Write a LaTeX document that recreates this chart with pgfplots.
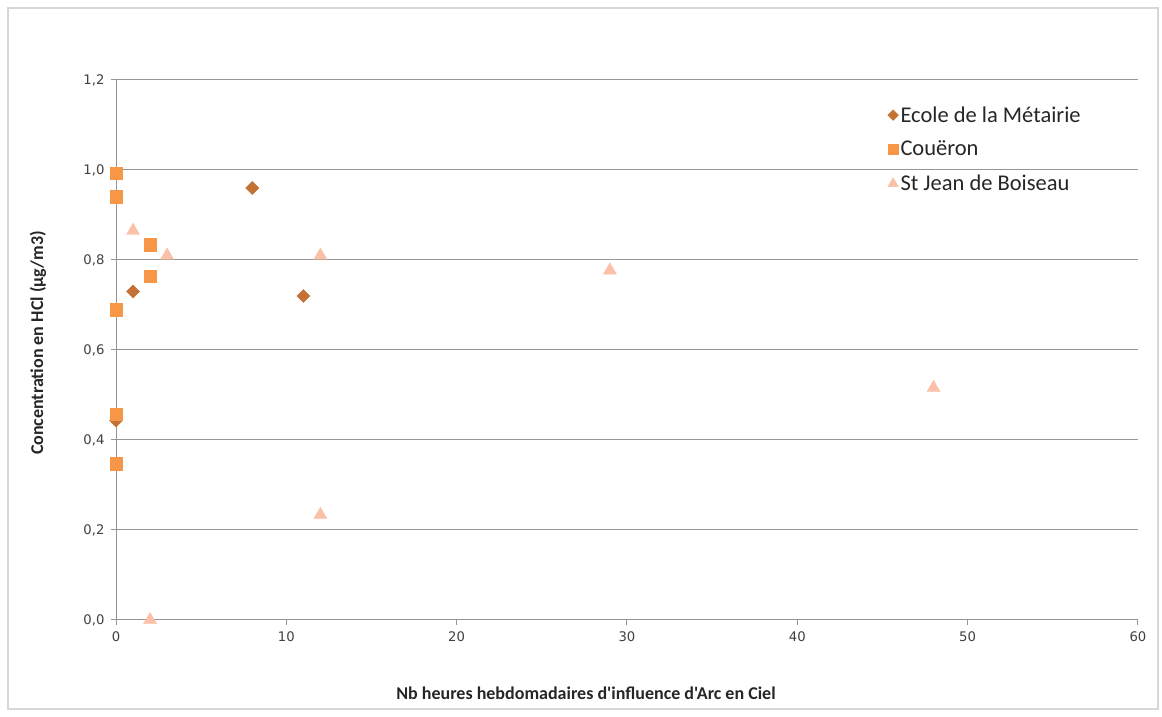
\documentclass[border=0pt]{standalone}
\usepackage{pgfplots}
\pgfplotsset{compat=1.18}
\usepackage{fontspec}
\setmainfont{Carlito}
\newfontfamily\labfont{Carlito}
\newfontfamily\tickfont{DejaVu Sans}
\definecolor{cEcole}{RGB}{194,114,52}
\definecolor{cCoue}{RGB}{247,150,70}
\definecolor{cStJ}{RGB}{250,192,168}
\definecolor{gridc}{RGB}{150,150,150}
\begin{document}
\begin{tikzpicture}[x=1pt,y=1pt]
\path[use as bounding box] (0,0) rectangle (1162,717);
\draw[color={rgb,255:red,215;green,215;blue,215},line width=1.2pt] (8,8) rectangle (1158,709);
\begin{axis}[
  at={(116pt,97pt)}, anchor=south west,
  scale only axis, width=1022pt, height=540pt,
  xmin=0, xmax=60, ymin=0, ymax=1.2,
  xtick={0,10,...,60}, ytick={0,0.2,...,1.2},
  axis x line*=bottom, axis y line*=left,
  axis line style={gridc, line width=1pt, -},
  ymajorgrids, grid style={gridc, line width=1pt},
  tick style={gridc, line width=1pt},
  tick align=outside, major tick length=5pt,
  /pgf/number format/assume math mode=true,
  ticklabel style={font=\tickfont\fontsize{13.2}{15}\selectfont, text=black!75},
  yticklabel style={xshift=-3pt, /pgf/number format/.cd, fixed, fixed zerofill, precision=1, use comma},
  xticklabel style={yshift=-3pt},
  clip=false,
  legend style={at={(0.755,0.955)}, anchor=north west, draw=none, fill=none,
    font=\fontsize{22.5}{26}\selectfont, row sep=13.5pt, text=black!85, inner sep=0pt},
  legend cell align=left,
]
\addplot[only marks, mark=square*, mark size=4.6pt, color=cEcole, mark options={fill=cEcole, rotate=45}, forget plot] coordinates {
  (0,0.443) (1,0.73) (8,0.96) (11,0.72)};
\addplot[only marks, mark=square*, mark size=6.3pt, color=cCoue, mark options={fill=cCoue}, forget plot] coordinates {
  (0,0.993) (0,0.94) (0,0.69) (0,0.457) (0,0.347) (2,0.834) (2,0.764)};
\addplot[only marks, mark=triangle*, mark size=7.5pt, color=cStJ, mark options={fill=cStJ}, forget plot] coordinates {
  (1,0.865) (3,0.81) (12,0.81) (12,0.234) (2,0.0) (29,0.777) (48,0.516)};
\addlegendimage{only marks, mark=square*, mark size=3.8pt, color=cEcole, mark options={fill=cEcole, rotate=45}}
\addlegendentry{Ecole de la Métairie}
\addlegendimage{only marks, mark=square*, mark size=5.3pt, color=cCoue, mark options={fill=cCoue}}
\addlegendentry{Couëron}
\addlegendimage{only marks, mark=triangle*, mark size=6pt, color=cStJ, mark options={fill=cStJ}}
\addlegendentry{St Jean de Boiseau}
\end{axis}
\node[font=\labfont\bfseries\fontsize{18}{21}\selectfont, text=black!85] at (586,24) {Nb heures hebdomadaires d'influence d'Arc en Ciel};
\node[font=\labfont\bfseries\fontsize{18}{21}\selectfont, text=black!85, rotate=90] at (38,374) {Concentration en HCl (µg/m3)};
\end{tikzpicture}
\end{document}
